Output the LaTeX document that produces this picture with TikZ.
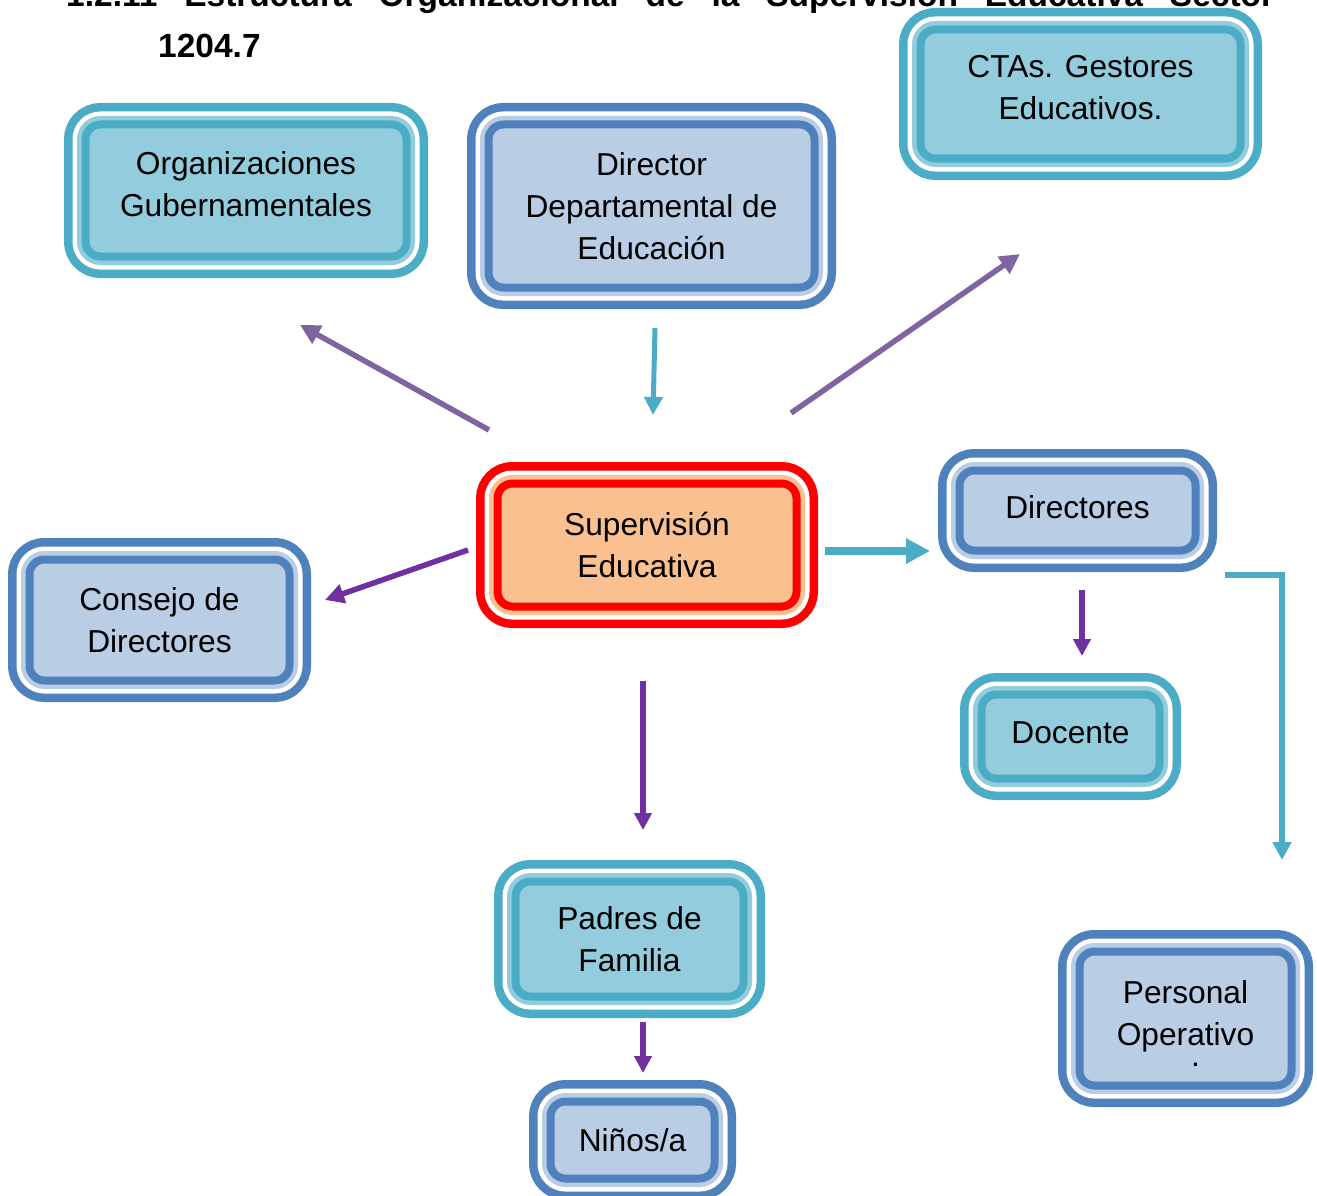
\documentclass[tikz,border=0pt]{standalone}
\usepackage{fontspec}
\setmainfont{Liberation Sans}
\usetikzlibrary{arrows.meta}

\definecolor{tealline}{HTML}{4BACC6}
\definecolor{tealfill}{HTML}{93CDDD}
\definecolor{blueline}{HTML}{4F81BD}
\definecolor{bluefill}{HTML}{B9CDE5}
\definecolor{redline}{HTML}{FF0000}
\definecolor{orangefill}{HTML}{FAC090}
\definecolor{lilac}{HTML}{8064A2}
\definecolor{grape}{HTML}{7030A0}

% invisible struts to nudge text inside a box
\newcommand{\deep}[1]{\rule[-#1]{0pt}{0pt}}
\newcommand{\tall}[1]{\rule{0pt}{#1}}

\tikzset{
  tripleframe/.style 2 args={rectangle, rounded corners=15pt, inner sep=0pt,
    align=center, font=\fontsize{31.7}{42}\selectfont,
    line width=8pt, draw=#1, fill=#2,
    preaction={draw=#1, line width=43pt},
    preaction={draw=white, line width=26pt},
    preaction={draw=#2, line width=17pt}},
  tip/.style={-{Triangle[length=#1,width=#1]}}
}

\begin{document}
\begin{tikzpicture}[x=1pt,y=-1pt]
\useasboundingbox (0,0) rectangle (1317,1196);

% title
\node[anchor=base west, inner sep=0pt, font=\bfseries\fontsize{33.5}{40}\selectfont] (title) at (66,7)
  {\makebox[1208pt][s]{1.2.11 Estructura Organizacional de la Supervisión Educativa Sector}};
\node[anchor=base west, inner sep=0pt, font=\bfseries\fontsize{33.5}{40}\selectfont] (sector) at (158,58) {1204.7};

\begin{scope}[every node/.style={tripleframe={tealline}{tealfill}}]
    \node[minimum width=321pt, minimum height=132pt] (org) at (246,190.5) {Organizaciones\\Gubernamentales\deep{13pt}};
    \node[minimum width=320pt, minimum height=129pt] (cta) at (1080.5,94) {CTAs. Gestores\\Educativos.\deep{13pt}};
    \node[minimum width=178pt, minimum height=84pt] (doc) at (1070.5,736.5) {Docente\deep{7pt}};
    \node[minimum width=228pt, minimum height=115pt] (pad) at (629.5,939) {Padres de\\Familia};
\end{scope}

\begin{scope}[every node/.style={tripleframe={blueline}{bluefill}}]
    \node[minimum width=326pt, minimum height=163pt] (dir) at (651.5,206) {Director\\Departamental de\\Educación};
    \node[minimum width=236pt, minimum height=80pt] (dirs) at (1077.5,510.5) {Directores\deep{7pt}};
    \node[minimum width=260pt, minimum height=121pt] (con) at (159.5,620) {Consejo de\\Directores};
    \node[minimum width=164pt, minimum height=77pt] (nin) at (632.5,1140) {Niños/a};
    \node[minimum width=212pt, minimum height=134pt] (per) at (1185.5,1018.5)
      {\tall{33pt}Personal\\Operativo\\[-21pt]\hspace*{20pt}.};
\end{scope}

\node[tripleframe={redline}{orangefill}, minimum width=299pt, minimum height=123pt] (sup) at (647,545) {Supervisión\\Educativa};

% arrow ends
\coordinate (supNW) at (489,430);  \coordinate (orgS) at (300,325);
\coordinate (dirS) at (655,328);   \coordinate (supN) at (653,415);
\coordinate (supNE) at (791,413);  \coordinate (ctaS) at (1020,254);
\coordinate (supW) at (468,550);   \coordinate (conE) at (325,600);
\coordinate (supE) at (825,551);   \coordinate (dirsW) at (930,551);
\coordinate (dirsS) at (1082,590); \coordinate (docN) at (1082,656);
\coordinate (dirsE) at (1225,575); \coordinate (perN) at (1282,860);
\coordinate (supS) at (643,681);   \coordinate (padN) at (643,830);
\coordinate (padS) at (643,1022);  \coordinate (ninN) at (643,1073);

\begin{scope}[every edge/.style={draw, line width=5.5pt}]
    \path (supNW) edge[lilac, tip=20pt] (orgS);
    \path (dirS) edge[tealline, line width=5pt, tip=18pt] (supN);
    \path (supNE) edge[lilac, tip=20pt] (ctaS);
    \path (supW) edge[grape, tip=19pt] (conE);
    \path (supE) edge[tealline, line width=8pt, tip=24pt] (dirsW);
    \path (dirsS) edge[grape, tip=17pt] (docN);
    \path (supS) edge[grape, tip=17pt] (padN);
    \path (padS) edge[grape, tip=17pt] (ninN);
\end{scope}
\draw[tealline, line width=6pt, tip=18pt] (dirsE) -| (perN);
\end{tikzpicture}
\end{document}
